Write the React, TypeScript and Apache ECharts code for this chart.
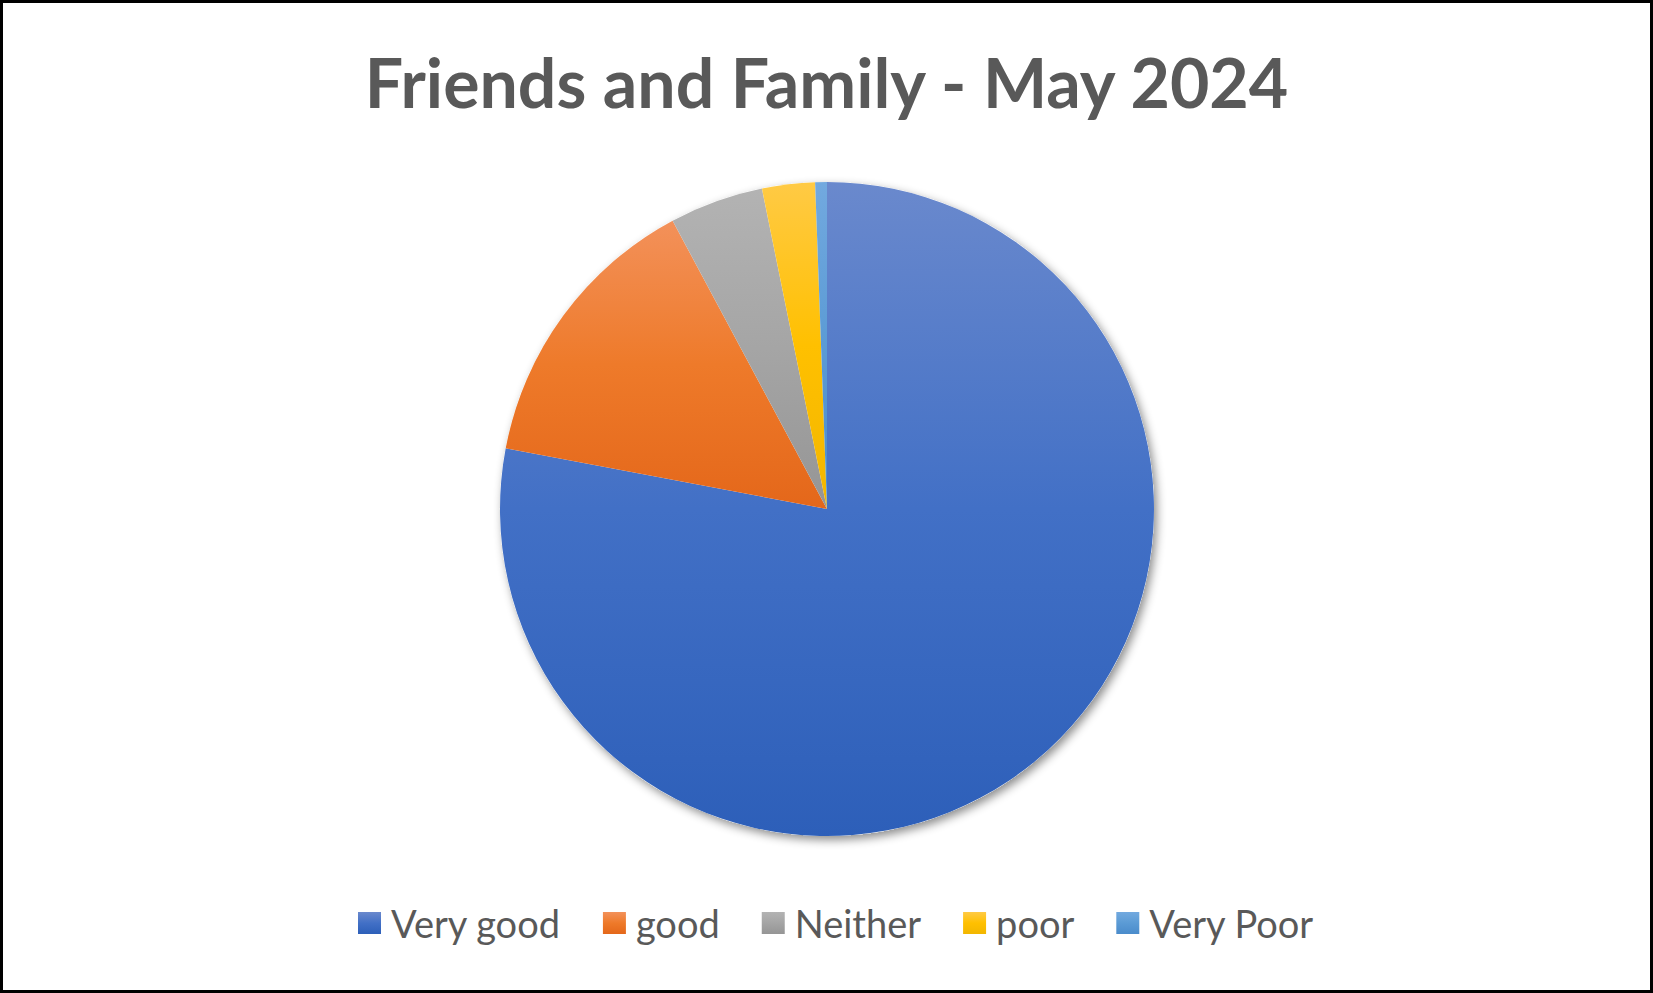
import { useEffect, useRef } from 'react';
import * as echarts from 'echarts';

const titleText = 'Friends and Family - May 2024';
const categories = ['Very good', 'good', 'Neither', 'poor', 'Very Poor'];
const responses = [269, 49, 16, 9, 2];
// top / middle / bottom colours of each slice's gradient
const topColors = ['#6a89cd', '#f3915a', '#b3b3b3', '#ffca45', '#72a9df'];
const midColors = ['#4270c6', '#ee7a2a', '#a5a5a5', '#ffc000', '#5b9bd5'];
const bottomColors = ['#2d5fb9', '#e4671a', '#959595', '#f2b600', '#4a8bcb'];

const grad = (i: number) =>
    new echarts.graphic.LinearGradient(0, 0, 0, 1, [
        { offset: 0, color: topColors[i] },
        { offset: 0.5, color: midColors[i] },
        { offset: 1, color: bottomColors[i] }
    ]);

const App = () => {
    const chartRef = useRef<HTMLDivElement | null>(null);

    useEffect(() => {
        if (!chartRef.current) return;
        const myChart = echarts.init(chartRef.current, undefined, { renderer: 'svg' });
        const center = [824, 506];
        const radius = 327;
        const option = {
            animation: false,
            title: {
                text: titleText,
                left: 'center',
                top: 39,
                textStyle: {
                    fontFamily: 'Lato',
                    fontWeight: 'bold',
                    fontSize: 68,
                    color: '#595959'
                }
            },
            legend: {
                data: categories,
                bottom: 43,
                left: 350,
                icon: 'rect',
                itemWidth: 23,
                itemHeight: 22,
                itemGap: 42,
                textStyle: {
                    fontFamily: 'Lato',
                    fontSize: 38,
                    color: '#595959',
                    padding: [0, 0, 0, 5]
                }
            },
            series: [
                {
                    // backdrop disc carrying the outer shadow only
                    type: 'pie',
                    silent: true,
                    center: center,
                    radius: radius,
                    label: { show: false },
                    labelLine: { show: false },
                    itemStyle: {
                        color: '#ffffff',
                        shadowBlur: 10,
                        shadowOffsetX: 3,
                        shadowOffsetY: 4,
                        shadowColor: 'rgba(0,0,0,0.45)'
                    },
                    data: [{ name: '', value: 1 }]
                },
                {
                    type: 'pie',
                    center: center,
                    radius: radius,
                    startAngle: 90,
                    clockwise: true,
                    label: { show: false },
                    labelLine: { show: false },
                    emphasis: { disabled: true },
                    itemStyle: { borderWidth: 0 },
                    data: categories.map((name, i) => ({
                        name,
                        value: responses[i],
                        itemStyle: { color: grad(i) }
                    }))
                }
            ]
        };
        myChart.setOption(option);
        return () => {
            myChart.dispose();
        };
    }, []);

    return (
        <div
            style={{
                position: 'fixed',
                left: 0,
                top: 0,
                width: 1653,
                height: 993,
                boxSizing: 'border-box',
                border: '3px solid #000',
                background: '#fff'
            }}
        >
            <div ref={chartRef} style={{ width: '100%', height: '100%' }} />
        </div>
    );
};

export default App;
